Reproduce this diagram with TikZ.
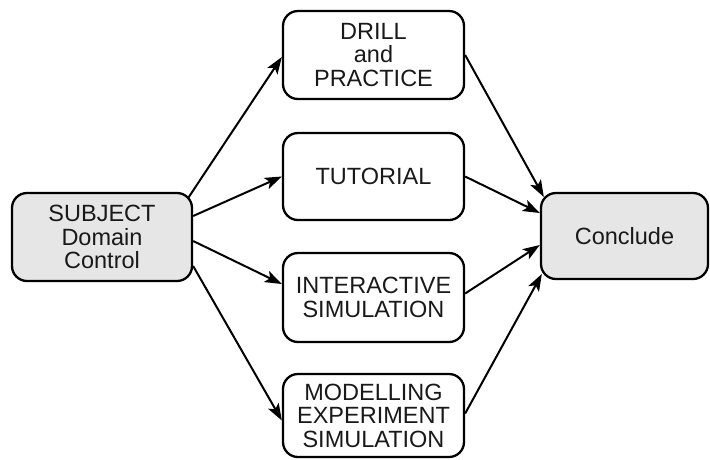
\documentclass[tikz,border=0pt]{standalone}
\usepackage{fontspec}
\setmainfont{Liberation Sans}
\usetikzlibrary{arrows.meta}
\definecolor{boxgray}{HTML}{E6E6E6}
\tikzset{
  box/.style={draw=black, line width=2.3pt, rounded corners=15pt, align=center,
    inner sep=0pt, font=\fontsize{23.5}{23.5}\selectfont, text=black!90},
  graybox/.style={box, fill=boxgray},
  conn/.style={line width=2pt, -{Stealth[length=17pt,width=12pt,inset=4pt]}}
}
\begin{document}
\begin{tikzpicture}[x=1pt,y=-1pt]
\useasboundingbox (0,0) rectangle (710,459);
\node[graybox, minimum width=180pt, minimum height=88pt] (subj) at (102,237) {SUBJECT\\Domain\\Control};
\node[box, minimum width=181pt, minimum height=88pt] (drill) at (373.5,55) {DRILL\\and\\PRACTICE};
\node[box, minimum width=181pt, minimum height=87pt] (tut) at (373.5,176.5) {TUTORIAL};
\node[box, minimum width=181pt, minimum height=89pt] (inter) at (373.5,297.5) {INTERACTIVE\\SIMULATION};
\node[box, minimum width=181pt, minimum height=83pt] (model) at (373.5,415.5) {MODELLING\\EXPERIMENT\\SIMULATION};
\node[graybox, minimum width=167pt, minimum height=86pt] (concl) at (624.5,236) {Conclude};
\draw[conn] ([shift={(-5pt,39pt)}]subj.east) -- ([yshift=-2pt]drill.west);
\draw[conn] ([yshift=21pt]subj.east) -- (tut.west);
\draw[conn] ([yshift=-4pt]subj.east) -- ([yshift=13.5pt]inter.west);
\draw[conn] ([yshift=-29pt]subj.east) -- ([yshift=-5pt]model.west);
\draw[conn] (drill.east) -- ([shift={(4pt,39pt)}]concl.west);
\draw[conn] (tut.east) -- ([yshift=23pt]concl.west);
\draw[conn] ([yshift=4pt]inter.east) -- ([yshift=-9pt]concl.west);
\draw[conn] ([yshift=2pt]model.east) -- ([shift={(2pt,-38pt)}]concl.west);
\end{tikzpicture}
\end{document}
